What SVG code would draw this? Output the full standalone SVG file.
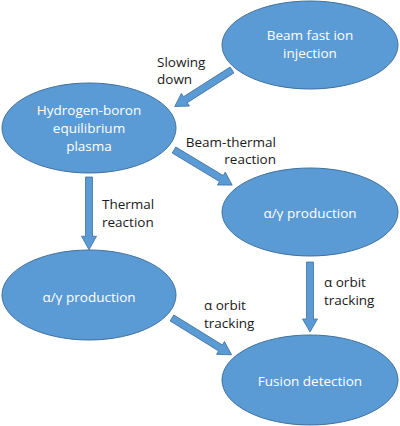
<svg xmlns="http://www.w3.org/2000/svg" width="400" height="426" viewBox="0 0 400 426">
<style>
.node ellipse{fill:#5B9BD5;stroke:#41719C;stroke-width:1}
.node text{fill:#fff;font-family:"Open Sans","Liberation Sans",sans-serif;font-size:13.5px;text-anchor:middle}
.lbl{fill:#1a1a1a;font-family:"Open Sans","Liberation Sans",sans-serif;font-size:13.5px}
.arrow{fill:#5B9BD5;stroke:#41719C;stroke-width:0.8}
</style>
<defs>
<polygon id="arr70" points="0,-3.5 57,-3.5 57,-7.5 70,0 57,7.5 57,3.5 0,3.5"/>
</defs>
<rect width="400" height="426" fill="#fff"/>
<g id="connectors">
<use href="#arr70" class="arrow" transform="translate(232,70) rotate(147.5) scale(0.97,1)"/>
<use href="#arr70" class="arrow" transform="translate(174,150) rotate(31.1) scale(0.97,1)"/>
<use href="#arr70" class="arrow" transform="translate(89,177) rotate(90) scale(1.04,1)"/>
<use href="#arr70" class="arrow" transform="translate(310,262) rotate(90)"/>
<use href="#arr70" class="arrow" transform="translate(172,318) rotate(31.7)"/>
</g>
<g id="n-beam" class="node"><ellipse cx="310" cy="45" rx="88" ry="44"/><text x="310" y="40">Beam fast ion</text><text x="310" y="58">injection</text></g>
<g id="n-plasma" class="node"><ellipse cx="89" cy="128" rx="87" ry="45"/><text x="89" y="115">Hydrogen-boron</text><text x="89" y="133">equilibrium</text><text x="89" y="151">plasma</text></g>
<g id="n-prod-right" class="node"><ellipse cx="310" cy="212" rx="88" ry="44"/><text x="310" y="218">α/γ production</text></g>
<g id="n-prod-left" class="node"><ellipse cx="89" cy="295" rx="87" ry="45"/><text x="89" y="302">α/γ production</text></g>
<g id="n-fusion" class="node"><ellipse cx="310" cy="380" rx="88" ry="45"/><text x="310" y="386">Fusion detection</text></g>
<g id="labels">
<text class="lbl" x="157" y="67">Slowing</text><text class="lbl" x="157" y="84">down</text>
<text class="lbl" x="276" y="147" text-anchor="end">Beam-thermal</text><text class="lbl" x="276" y="164" text-anchor="end">reaction</text>
<text class="lbl" x="102" y="209">Thermal</text><text class="lbl" x="102" y="227">reaction</text>
<text class="lbl" x="324" y="287">α orbit</text><text class="lbl" x="324" y="305">tracking</text>
<text class="lbl" x="204" y="310">α orbit</text><text class="lbl" x="204" y="328">tracking</text>
</g>
</svg>
